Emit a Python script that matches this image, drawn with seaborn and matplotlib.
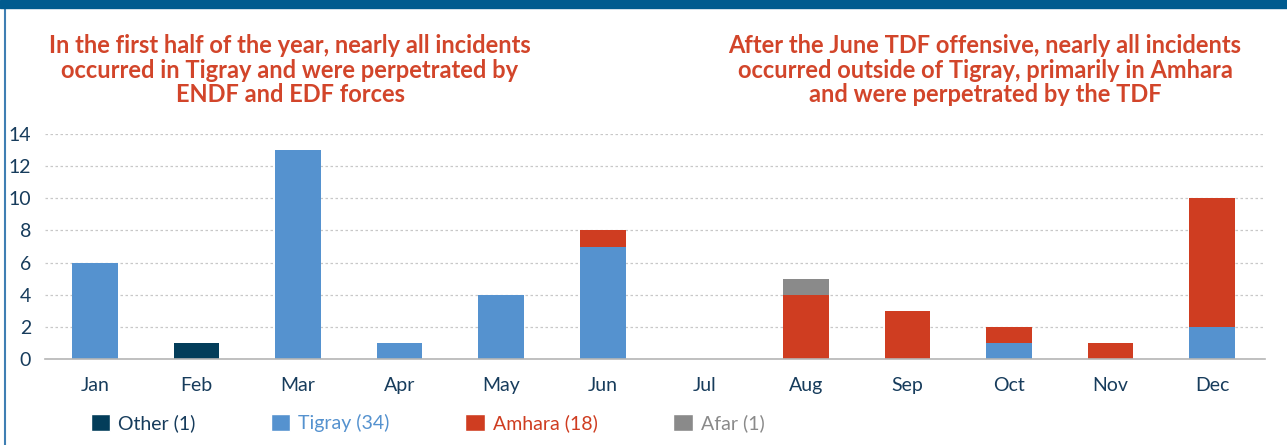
import numpy as np
import pandas as pd
import matplotlib
matplotlib.use("Agg")
import matplotlib.pyplot as plt
import seaborn as sns
from matplotlib.patches import Patch, Rectangle
from matplotlib.lines import Line2D

months = ["Jan", "Feb", "Mar", "Apr", "May", "Jun", "Jul", "Aug", "Sep", "Oct", "Nov", "Dec"]
other = [0, 1, 0, 0, 0, 0, 0, 0, 0, 0, 0, 0]
tigray = [6, 0, 13, 1, 4, 7, 0, 0, 0, 1, 0, 2]
amhara = [0, 0, 0, 0, 0, 1, 0, 4, 3, 1, 1, 8]
afar = [0, 0, 0, 0, 0, 0, 0, 1, 0, 0, 0, 0]
legend_labels = ["Other (1)", "Tigray (34)", "Amhara (18)", "Afar (1)"]
title_left = "In the first half of the year, nearly all incidents\noccurred in Tigray and were perpetrated by\nENDF and EDF forces"
title_right = "After the June TDF offensive, nearly all incidents\noccurred outside of Tigray, primarily in Amhara\nand were perpetrated by the TDF"

c_other = "#033d5a"
c_tigray = "#5592cf"
c_amhara = "#cf3d21"
c_afar = "#8a8a8a"
c_text = "#173c5c"
c_title = "#d2452a"

sns.set_style("white")
plt.rcParams["font.family"] = ["Lato", "DejaVu Sans"]

df = pd.DataFrame({"month": months, "other": other, "tigray": tigray,
                   "amhara": amhara, "afar": afar})
# cumulative layers, drawn from the top layer down
df["l1"] = df["other"]
df["l2"] = df["l1"] + df["tigray"]
df["l3"] = df["l2"] + df["amhara"]
df["l4"] = df["l3"] + df["afar"]

fig = plt.figure(figsize=(12.87, 4.45), dpi=100)
ax = fig.add_axes([45 / 1287, 0.193, 1220 / 1287, 0.506])

for col, color in [("l4", c_afar), ("l3", c_amhara), ("l2", c_tigray), ("l1", c_other)]:
    sns.barplot(data=df, x="month", y=col, color=color, width=0.45,
                saturation=1, linewidth=0, ax=ax, zorder=3)

ax.set_xlim(-0.49, 11.52)
ax.set_ylim(0, 14)
ax.set_yticks(range(0, 15, 2))
ax.yaxis.grid(True, linestyle=(0, (2, 2)), color="#c8c8c8", linewidth=0.9, zorder=0)
ax.xaxis.grid(False)
for s in ["top", "right", "left"]:
    ax.spines[s].set_visible(False)
ax.spines["bottom"].set_color("#b5b5b5")
ax.spines["bottom"].set_linewidth(1.2)
ax.spines["bottom"].set_zorder(4)
ax.set_xlabel("")
ax.set_ylabel("")
ax.tick_params(axis="both", length=0, labelsize=14, colors=c_text)
ax.tick_params(axis="x", pad=13)
ax.tick_params(axis="y", pad=10)

fig.text(290 / 1287, 1 - 70 / 445, title_left, ha="center", va="center",
         fontsize=17, fontweight="bold", color=c_title, linespacing=1.1)
fig.text(985 / 1287, 1 - 70 / 445, title_right, ha="center", va="center",
         fontsize=17, fontweight="bold", color=c_title, linespacing=1.1)

handles = [Patch(facecolor=c) for c in [c_other, c_tigray, c_amhara, c_afar]]
leg = fig.legend(handles, legend_labels, ncol=4, loc="center left",
                 bbox_to_anchor=(73 / 1287, 1 - 423 / 445), frameon=False,
                 fontsize=14, handlelength=1.0, handleheight=1.0,
                 handletextpad=0.4, columnspacing=3.9)
for t, c in zip(leg.get_texts(), [c_text, c_tigray, c_amhara, c_afar]):
    t.set_color(c)

fig.add_artist(Rectangle((0, 1 - 8 / 445), 1, 8 / 445, transform=fig.transFigure,
                         color="#005b8f", zorder=10))
fig.add_artist(Line2D([5 / 1287, 5 / 1287], [0, 1], transform=fig.transFigure,
                      color="#3f7fb3", linewidth=1.5))

fig.savefig("out.png", dpi=100)
